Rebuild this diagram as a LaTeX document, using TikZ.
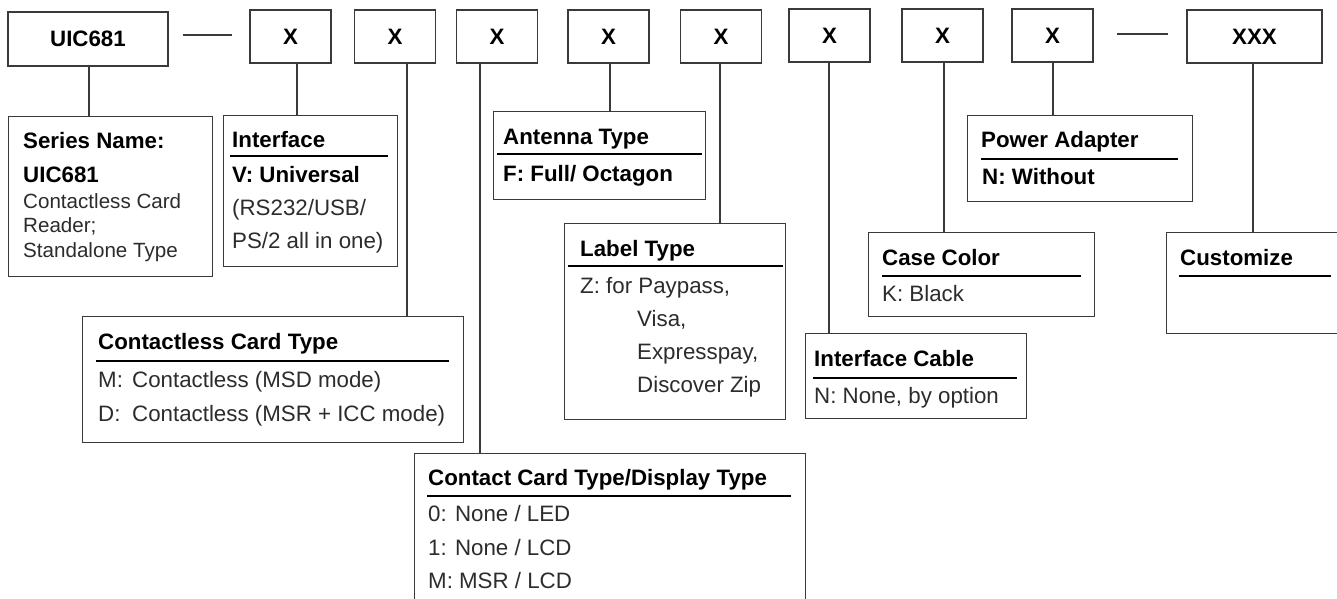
\documentclass[tikz,border=0pt]{standalone}
\usepackage{fontspec}
\setmainfont{Liberation Sans}
\usetikzlibrary{calc}
\definecolor{edge}{HTML}{3A3A3A}
\definecolor{body}{HTML}{2C2C2C}
\begin{document}
\begin{tikzpicture}[x=1pt,y=-1pt,
  topbox/.style={draw=edge, line width=1.1pt, inner sep=0pt, minimum height=53pt, minimum width=81pt, font=\bfseries\fontsize{22.3}{26}\selectfont},
  infobox/.style={draw=edge, line width=1.1pt, inner sep=0pt, anchor=north west},
  ttl/.style={anchor=base west, inner sep=0pt, font=\bfseries\fontsize{22.3}{26}\selectfont},
  txt/.style={anchor=base west, inner sep=0pt, text=body, font=\fontsize{22.3}{26}\selectfont},
  smalltxt/.style={anchor=base west, inner sep=0pt, text=body, font=\fontsize{20.6}{24}\selectfont},
  ul/.style={line width=2pt, black},
  conn/.style={draw=edge, line width=1.1pt}]
\useasboundingbox[fill=white] (0,0) rectangle (1337,598);

% top code boxes
\node[topbox, minimum width=160pt, minimum height=54pt] (uic) at (88,39) {UIC681};
\node[topbox] (x1) at (290.5,36.5) {X};
\node[topbox] (x2) at (395,36.5) {X};
\node[topbox] (x3) at (497,36.5) {X};
\node[topbox] (x4) at (608.5,36.5) {X};
\node[topbox] (x5) at (721,36.5) {X};
\node[topbox] (x6) at (829.5,35.5) {X};
\node[topbox] (x7) at (942.5,35.5) {X};
\node[topbox] (x8) at (1052.5,35.5) {X};
\node[topbox, minimum width=135pt] (xxx) at (1254.5,36.5) {XXX};

% dashes between groups
\draw[conn] ($(uic.east)+(14,-4)$) -- ($(x1.west)+(-17,-1.5)$);
\draw[conn] ($(x8.east)+(23,-1.5)$) -- ($(xxx.west)+(-18,-2.5)$);

% info boxes
\node[infobox, minimum width=204pt, minimum height=160pt] (ser) at (8,116) {};
\node[infobox, minimum width=174pt, minimum height=151pt] (intf) at (223,115) {};
\node[infobox, minimum width=381pt, minimum height=126pt] (ctl) at (82,316) {};
\node[infobox, minimum width=391pt, minimum height=170pt] (cnt) at (414,453) {};
\node[infobox, minimum width=212pt, minimum height=88pt] (ant) at (493,111) {};
\node[infobox, minimum width=221pt, minimum height=196pt] (lbl) at (564,223) {};
\node[infobox, minimum width=221pt, minimum height=85pt] (cab) at (805,333) {};
\node[infobox, minimum width=226pt, minimum height=84pt] (cas) at (868,232) {};
\node[infobox, minimum width=225pt, minimum height=86pt] (pwr) at (967,115) {};
\node[infobox, minimum width=190pt, minimum height=101pt] (cus) at (1166,232) {};

% connectors
\path (uic.south) ++(1,0) coordinate (c0);
\path (x1.south) ++(6.5,0) coordinate (c1);
\path (x2.south) ++(12,0) coordinate (c2);
\path (x3.south) ++(-17,0) coordinate (c3);
\path (x4.south) ++(1.5,0) coordinate (c4);
\path (x5.south) ++(-1,0) coordinate (c5);
\path (x6.south) ++(-0.5,0) coordinate (c6);
\path (x7.south) ++(1.5,0) coordinate (c7);
\path (x8.south) ++(0.5,0) coordinate (c8);
\path (xxx.south) ++(-1.5,0) coordinate (c9);
\draw[conn] (c0) -- (c0 |- ser.north);
\draw[conn] (c1) -- (c1 |- intf.north);
\draw[conn] (c2) -- (c2 |- ctl.north);
\draw[conn] (c3) -- (c3 |- cnt.north);
\draw[conn] (c4) -- (c4 |- ant.north);
\draw[conn] (c5) -- (c5 |- lbl.north);
\draw[conn] (c6) -- (c6 |- cab.north);
\draw[conn] (c7) -- (c7 |- cas.north);
\draw[conn] (c8) -- (c8 |- pwr.north);
\draw[conn] (c9) -- (c9 |- cus.north);

% Series
\node[ttl] (serA) at (23,148) {Series Name:};
\node[ttl] (serB) at (23,182) {UIC681};
\node[smalltxt] (serC) at (23,208) {Contactless Card};
\node[smalltxt] (serD) at (23,232) {Reader;};
\node[smalltxt] (serE) at (23,257) {Standalone Type};

% Interface
\node[ttl] (intA) at (232,147) {Interface};
\draw[ul] (230,156) -- (388,156);
\node[ttl] (intB) at (232,182) {V: Universal};
\node[txt] (intC) at (232,215) {(RS232/USB/};
\node[txt] (intD) at (232,248) {PS/2 all in one)};

% Contactless card type
\node[ttl] (ctlA) at (98,349) {Contactless Card Type};
\draw[ul] (96,361) -- (449,361);
\node[txt] (ctlB) at (98,387) {\makebox[34pt][l]{M:}Contactless (MSD mode)};
\node[txt] (ctlC) at (98,421) {\makebox[34pt][l]{D:}Contactless (MSR + ICC mode)};

% Contact card type / display type
\node[ttl] (cntA) at (428,485) {Contact Card Type/Display Type};
\draw[ul] (427,496) -- (791,496);
\node[txt] (cntB) at (428,521) {0: None / LED};
\node[txt] (cntC) at (428,555) {1: None / LCD};
\node[txt] (cntD) at (428,588) {M: MSR / LCD};

% Antenna
\node[ttl] (antA) at (503,144) {Antenna Type};
\draw[ul] (497,154) -- (702,154);
\node[ttl] (antB) at (503,181) {F: Full/ Octagon};

% Label
\node[ttl] (lblA) at (580,256) {Label Type};
\draw[ul] (568,266) -- (783,266);
\node[txt] (lblB) at (580,293) {Z: for Paypass,};
\node[txt] (lblC) at (637,326) {Visa,};
\node[txt] (lblD) at (637,359) {Expresspay,};
\node[txt] (lblE) at (637,392) {Discover Zip};

% Interface cable
\node[ttl] (cabA) at (814,366) {Interface Cable};
\draw[ul] (813,378) -- (1017,378);
\node[txt] (cabB) at (814,403) {N: None, by option};

% Case color
\node[ttl] (casA) at (882,265) {Case Color};
\draw[ul] (882,276) -- (1081,276);
\node[txt] (casB) at (882,301) {K: Black};

% Power adapter
\node[ttl] (pwrA) at (981,147) {Power Adapter};
\draw[ul] (981,159) -- (1178,159);
\node[ttl] (pwrB) at (982,184) {N: Without};

% Customize
\node[ttl] (cusA) at (1180,265) {Customize};
\draw[ul] (1179,276) -- (1331,276);
\end{tikzpicture}
\end{document}
